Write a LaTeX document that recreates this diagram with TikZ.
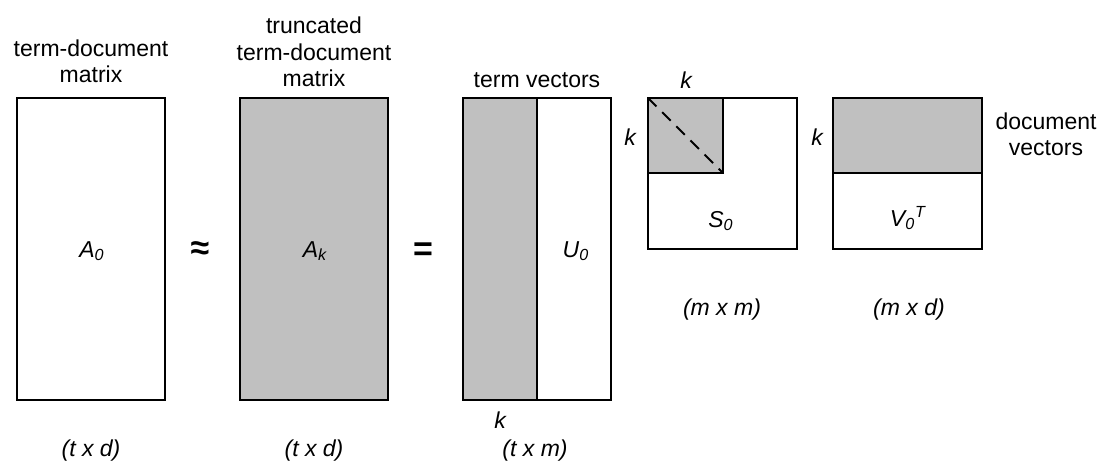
\documentclass[tikz,border=0pt]{standalone}
\usepackage{fontspec}
\setmainfont{Liberation Sans}
\usepackage{tikz}
\definecolor{matgrey}{HTML}{C0C0C0}

\begin{document}
\begin{tikzpicture}[x=0.5pt, y=-0.5pt,
  mat/.style={draw, line width=1pt},
  part/.style={draw, fill=matgrey, line width=1pt},
  lbl/.style={align=center, inner sep=0pt, font=\fontsize{11.5}{13.2}\selectfont},
  sym/.style={inner sep=0pt, font=\fontsize{11.5}{13.2}\selectfont\itshape},
  op/.style={inner sep=0pt, font=\fontsize{17}{17}\selectfont\bfseries}
]
\useasboundingbox (0,0) rectangle (1103,468);

% matrices
\draw[mat] (17,98) rectangle (165,400);
\draw[part] (240,98) rectangle (388,400);
\draw[part] (463,98) rectangle (537,400);
\draw[mat] (463,98) rectangle (611,400);
\draw[part] (648,98) rectangle (723,173);
\draw[line width=1pt, dash pattern=on 6pt off 4pt] (648,98) -- (723,173);
\draw[mat] (648,98) rectangle (797,249);
\draw[part] (833,98) rectangle (982,173);
\draw[mat] (833,98) rectangle (982,249);

% headings
\node[lbl] (termdoc) at (91,61) {term-document\\matrix};
\node[lbl] (trunc) at (314,52) {truncated\\term-document\\matrix};
\node[lbl] (termvec) at (537,80) {term vectors};
\node[lbl] (docvec) at (1046,134) {document\\vectors};

% names inside
\node[sym] (A0) at (92,251) {A\textsubscript{0}};
\node[sym] (Ak) at (315,251) {A\textsubscript{k}};
\node[sym] (U0) at (576,251) {U\textsubscript{0}};
\node[sym] (S0) at (721,221) {S\textsubscript{0}};
\node[sym] (V0) at (908,218) {V\textsubscript{0}\textsuperscript{T}};
\node[op] (approx) at (200,251) {≈};
\node[op] (equal) at (423,252) {=};

% k marks
\node[sym] (kS0top) at (686,80) {k};
\node[sym] (kS0) at (630,137) {k};
\node[sym] (kV0) at (817,137) {k};
\node[sym] (kU0) at (500,420) {k};

% sizes
\node[sym] (dimA0) at (91,451) {(t x d)};
\node[sym] (dimAk) at (314,451) {(t x d)};
\node[sym] (dimU0) at (535,451) {(t x m)};
\node[sym] (dimS0) at (722,310) {(m x m)};
\node[sym] (dimV0) at (909,310) {(m x d)};
\end{tikzpicture}
\end{document}
